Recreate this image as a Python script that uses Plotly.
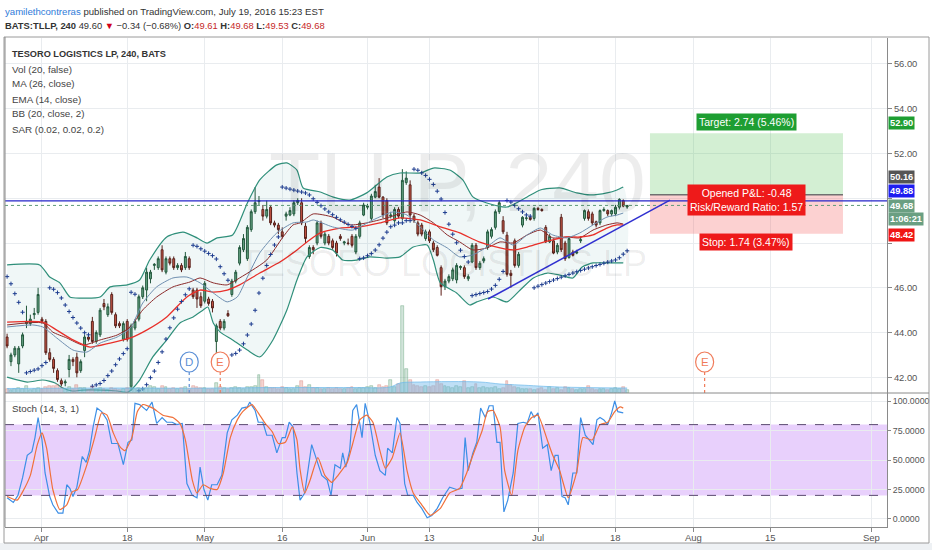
import numpy as np
import plotly.graph_objects as go

# ---------------- data (240-minute bars, TLLP, from Mar 24 2016 pm to Jul 19 2016) ----------------
# time unit: trading-day index, 0 = Apr 1 2016, two bars per session
OPEN = [43.8,42.7,43.0,42.6,43.4,44.4,44.4,44.8,44.9,44.6,
        44.5,43.1,42.8,42.3,41.85,41.75,42.35,42.8,42.9,42.3,
        43.2,43.8,44.5,43.6,43.9,45.3,44.8,45.7,44.8,44.4,
        43.7,44.5,41.6,44.2,44.6,45.6,45.9,46.4,47.0,46.9,
        47.7,46.7,47.3,47.3,46.9,47.0,46.9,47.3,45.9,45.9,
        45.6,45.4,45.5,45.4,43.6,44.5,44.2,44.85,45.7,46.3,
        47.1,47.7,47.3,48.6,49.4,49.85,49.5,49.2,49.6,48.9,
        48.8,48.5,49.2,49.25,49.3,49.8,49.8,48.75,47.4,47.8,
        48.0,48.9,48.0,48.3,48.1,48.0,48.3,48.0,48.0,48.3,
        47.6,48.3,49.25,49.6,49.1,50.05,50.5,50.05,49.9,49.2,
        49.0,49.5,49.1,50.7,50.6,49.2,48.9,48.8,48.2,48.5,
        48.0,47.8,46.9,46.05,46.3,46.4,46.35,46.9,46.9,46.4,
        47.15,47.9,46.9,47.2,47.8,48.3,48.7,49.4,49.0,48.35,
        46.65,48.1,47.0,48.8,49.1,49.15,49.1,49.55,49.5,48.7,
        48.05,48.1,47.6,49.15,48.0,47.35,47.6,47.55,48.1,49.1,
        49.4,49.3,48.95,48.9,49.45,49.45,49.3,49.3,49.6,49.9,
        49.61]
HIGH = [43.95,43.1,43.4,43.4,44.0,45.2,44.8,45.1,46.0,44.7,
        44.6,43.3,42.9,42.4,41.95,41.9,43.0,42.9,43.1,42.8,
        43.9,43.9,44.7,44.1,45.1,45.5,45.3,45.8,44.9,44.5,
        44.5,44.6,44.4,44.6,45.7,46.1,46.9,46.8,47.1,47.4,
        47.9,47.4,47.4,47.4,47.1,47.1,47.6,47.4,46.0,46.0,
        45.8,46.3,45.6,45.5,44.4,44.6,44.6,45.0,46.4,46.8,
        47.9,48.4,48.8,49.5,50.5,50.1,49.7,49.9,49.7,49.0,
        48.9,48.7,49.4,49.6,49.9,50.0,50.0,48.9,47.9,47.9,
        49.0,49.0,48.5,48.4,48.2,48.1,48.4,48.1,48.2,48.4,
        48.4,49.0,49.8,49.75,50.2,50.6,50.9,50.1,50.0,49.4,
        49.6,49.6,51.3,51.2,50.8,49.3,49.0,48.9,48.6,48.6,
        48.1,47.9,47.0,46.4,46.6,46.9,47.1,47.0,47.0,46.6,
        48.0,48.0,47.2,47.4,48.6,48.7,49.5,49.9,49.2,48.5,
        46.8,48.2,47.6,49.2,49.2,49.2,49.6,49.6,49.55,48.8,
        48.4,48.2,48.0,49.3,48.1,48.3,47.7,47.7,48.3,49.5,
        49.5,49.4,49.0,49.5,49.6,49.5,49.5,49.7,50.0,49.95,
        49.68]
LOW = [43.3,42.5,42.9,42.2,43.3,44.2,44.3,44.6,44.8,44.4,
       43.0,42.7,42.2,41.8,41.6,41.6,42.0,42.5,42.0,42.2,
       42.9,43.6,43.5,43.5,43.8,45.0,44.7,44.8,44.2,44.2,
       43.6,43.6,41.4,44.1,44.5,45.5,45.4,46.2,46.8,46.8,
       46.7,46.6,47.0,46.8,46.8,46.7,46.8,46.8,45.5,45.1,
       45.1,45.3,45.2,44.9,43.0,44.1,44.1,44.7,45.6,46.2,
       47.0,47.6,47.2,48.5,49.3,49.7,49.0,49.1,48.8,48.7,
       48.4,48.2,49.0,49.2,49.2,49.7,48.8,48.0,47.3,47.5,
       47.9,48.2,47.9,47.9,47.7,47.4,48.1,47.9,47.9,47.8,
       47.5,48.2,49.2,49.5,49.0,50.0,50.0,49.1,48.8,49.1,
       48.9,49.1,49.0,50.6,49.1,48.9,48.3,48.3,48.1,48.0,
       47.6,47.4,45.65,45.9,46.2,46.3,46.2,46.8,46.4,46.3,
       47.1,46.8,46.8,47.1,47.7,48.2,48.6,49.3,48.4,46.5,
       46.0,46.9,46.9,48.7,49.0,49.0,49.0,49.45,49.4,48.0,
       48.0,47.5,47.5,47.6,47.2,47.3,47.4,47.5,48.0,49.0,
       49.0,48.8,48.7,48.8,49.4,49.2,49.2,49.2,49.5,49.6,
       49.53]
CLOSE = [43.4,43.0,43.3,43.3,43.9,44.5,44.6,44.85,45.7,44.5,
         43.1,42.8,42.4,41.9,41.7,41.8,42.8,42.7,42.2,42.7,
         43.8,43.7,43.6,44.0,45.0,45.15,45.15,44.9,44.3,44.3,
         44.4,43.7,44.3,44.5,45.6,46.0,46.7,46.7,47.05,47.3,
         46.8,47.3,47.1,46.9,47.0,46.8,47.4,46.9,45.6,45.5,
         45.2,46.2,45.3,45.1,44.3,44.2,44.5,44.75,46.3,46.7,
         47.8,48.2,48.7,49.4,49.8,49.9,49.2,49.5,48.9,48.8,
         48.6,48.3,49.3,49.45,49.8,49.9,48.9,48.2,47.8,47.7,
         48.9,48.3,48.4,48.0,47.8,47.55,48.2,48.05,47.98,47.9,
         48.3,48.9,49.7,49.65,50.1,50.3,50.05,49.25,48.9,49.25,
         49.5,49.2,50.8,50.9,49.25,49.0,48.4,48.4,48.5,48.1,
         47.7,47.45,46.05,46.3,46.5,46.8,47.0,46.95,46.5,46.5,
         47.9,46.9,47.1,47.3,48.5,48.6,49.4,49.8,48.5,46.6,
         46.55,47.0,47.5,49.15,49.12,49.05,49.55,49.5,49.45,48.05,
         48.3,47.55,47.9,47.7,47.3,48.2,47.45,47.6,48.15,49.45,
         49.1,48.9,48.8,49.45,49.5,49.3,49.45,49.6,49.95,49.65,
         49.68]
VOLUME = [40,35,45,50,40,70,35,40,55,40,
          60,70,70,80,50,45,60,40,80,50,
          55,35,60,40,55,40,35,50,45,35,
          40,50,60,40,50,45,55,70,60,45,
          70,60,45,50,40,55,60,45,70,60,
          55,50,40,45,100,60,50,40,55,60,
          50,45,60,65,70,180,130,60,50,55,
          45,60,50,45,40,70,120,60,80,50,
          55,45,40,50,45,55,40,45,50,60,
          45,55,50,60,70,55,80,60,70,130,
          60,90,870,240,130,80,70,60,75,60,
          70,130,90,70,60,50,70,60,120,50,
          60,90,50,60,55,50,60,45,55,120,
          80,60,50,45,40,45,35,40,50,35,
          60,40,50,35,60,55,40,35,45,40,
          70,40,35,45,40,35,40,55,45,60,
          35]
FIRST_BAR_T = -4.5

# indicator lines: (time, value)
BB_UP_T = [-4.5,-0.3,1.0,2.3,3.6,4.9,7.5,8.8,11.0,12.6,13.9,16.1,18.2,20.0,21.3,22.6,24.6,26.5,28.1,30.3,
           31.6,32.9,33.7,35.9,37.5,39.7,41.9,44.5,46.2,48.8,50.5,52.6,54.3,55.6,57.4,60.0,62.6,64.3,66.8,69.0,
           70.7,72.9,74.2,75.0]
BB_UP_V = [47.02,47.02,46.48,46.22,45.59,45.54,45.59,46.04,46.13,46.35,47.24,48.27,48.49,48.23,48.00,48.23,48.36,49.79,50.82,51.49,
           51.58,51.26,50.46,50.28,50.06,49.92,50.24,50.95,51.13,51.13,51.35,51.26,50.82,50.06,49.79,49.61,50.06,50.37,50.46,50.24,
           50.15,50.24,50.37,50.50]
BB_LO_T = [-4.5,-1.9,0.1,1.7,2.7,3.9,5.3,7.5,9.7,11.1,12.6,14.3,16.1,17.8,19.5,20.8,21.4,22.1,23.0,24.6,
           26.5,28.1,29.8,31.6,32.9,34.2,35.9,37.5,38.8,40.6,42.3,44.5,46.2,47.9,49.7,50.5,51.4,53.5,55.2,56.1,
           58.2,60.0,61.7,63.4,65.2,66.8,68.5,69.7,71.1,72.9,75.0]
BB_LO_V = [42.01,41.79,41.88,41.75,41.52,41.39,41.43,41.43,41.39,41.34,41.88,42.91,43.67,44.43,44.70,45.01,45.14,44.43,44.02,43.67,
           43.22,42.91,43.67,45.01,46.35,47.38,47.80,47.69,47.24,47.24,47.38,47.33,47.38,47.82,47.91,47.24,46.22,45.77,45.23,45.37,
           45.59,45.37,45.90,46.44,46.66,46.57,46.44,46.93,47.11,47.11,47.11]
BB_MID_T = [-4.5,0.1,1.4,3.2,5.3,7.5,9.7,11.4,13.0,14.8,16.9,19.1,20.4,22.1,23.9,25.5,27.2,29.0,31.1,32.4,
            33.3,35.0,37.5,39.7,41.9,44.5,47.1,48.8,50.5,52.3,53.9,55.6,57.4,59.1,60.8,62.6,64.3,65.9,67.7,69.4,
            71.1,72.9,74.2,75.0]
BB_MID_V = [44.34,44.43,44.02,43.76,43.44,43.67,43.89,44.25,45.01,45.59,46.04,46.26,46.44,46.22,46.13,46.44,46.80,47.24,48.27,48.81,
            48.90,49.30,49.16,48.81,48.90,49.12,49.39,49.25,48.90,48.36,48.05,47.69,47.78,48.05,48.00,48.36,48.58,48.23,48.27,48.23,
            48.58,48.81,48.90,48.85]
MA26_T = [-4.5,0.1,1.9,4.0,6.2,8.8,11.4,13.5,16.1,18.7,20.4,22.1,23.9,25.5,28.1,30.7,32.4,34.2,35.9,38.5,
          41.0,43.6,46.2,48.8,51.4,53.9,56.4,59.1,60.8,62.6,64.3,65.9,67.7,69.4,71.1,72.9,74.2,75.0]
MA26_V = [44.47,44.47,44.11,43.67,43.35,43.53,43.76,44.11,44.70,45.59,45.90,45.81,45.90,46.13,46.66,47.15,47.56,48.05,48.45,48.67,
          48.72,48.90,49.12,49.03,48.72,48.45,48.05,47.78,47.69,47.82,48.00,48.14,48.27,48.27,48.36,48.67,48.81,48.81]
EMA14_T = [-4.5,-1.2,0.1,1.9,4.0,5.8,7.5,9.7,11.4,13.0,14.8,16.9,18.7,20.4,22.1,23.9,25.2,26.5,28.1,30.3,
           32.4,34.2,35.0,37.5,40.1,42.7,45.3,47.1,48.8,50.5,52.3,53.9,55.6,57.4,59.1,60.8,62.6,64.3,65.9,67.7,
           69.4,71.1,72.9,74.2,75.0]
EMA14_V = [44.25,44.34,44.25,43.76,43.22,43.13,43.53,43.80,44.20,45.32,46.04,46.44,46.48,46.22,45.77,45.37,45.59,46.48,47.56,48.45,
           48.90,48.94,49.03,48.72,48.58,49.03,49.39,49.25,48.72,48.14,47.78,47.38,47.47,47.82,48.23,47.91,48.36,48.67,48.36,48.23,
           48.45,48.81,49.16,49.25,49.34]
VOLMA_T = [-4.5,10,20,30,40,44.9,46.2,48.8,56.5,59.1,61.7,66.8,75.5]
VOLMA_V = [45,50,48,55,55,60,100,110,110,90,80,60,50]

STOCH_K_T = [-4.5,-3.7,-3.1,-2.5,-1.9,-1.3,-0.9,-0.5,0.0,0.4,1.0,1.4,2.1,2.7,3.2,3.6,4.0,4.5,5.2,5.7,
             6.1,6.6,7.1,7.7,8.4,9.0,9.8,10.5,11.1,11.6,12.0,12.6,13.5,14.2,14.8,15.5,16.1,16.8,17.4,18.1,
             18.7,19.4,20.0,20.4,20.9,21.4,21.9,22.6,23.2,23.9,24.5,25.2,25.8,26.5,26.8,27.5,27.9,28.5,29.0,29.7,
             30.3,31.0,31.4,31.9,32.4,32.9,33.3,33.9,34.8,35.5,36.1,36.8,37.3,37.8,38.5,38.8,39.2,39.7,40.1,40.6,
             41.3,41.7,42.3,43.0,43.6,44.3,44.6,45.2,45.8,46.2,46.8,47.2,47.9,48.4,49.0,49.7,50.3,51.0,51.7,52.6,
             53.5,54.2,54.6,55.0,55.6,56.1,56.6,57.2,57.7,58.2,58.7,59.1,59.6,60.1,60.8,61.4,62.1,62.6,63.1,63.5,
             64.0,64.6,65.2,65.7,66.2,66.6,67.1,67.5,67.9,68.5,69.0,69.5,70.1,70.6,71.1,71.6,72.0,72.5,73.0,73.5,
             73.9,74.3,75.0]
STOCH_K_V = [18,14,20,35,54,57,69,86,67,39,19,12,5,5,29,26,19,27,53,48,
             57,78,94,91,84,64,64,46,65,67,98,97,92,99,81,86,82,82,80,81,
             30,20,18,44,25,16,29,29,37,73,84,88,94,95,99,92,82,82,71,71,
             56,69,69,82,78,39,16,22,63,50,37,33,20,46,43,56,44,58,92,97,
             69,98,82,54,41,37,60,56,86,81,30,20,20,14,9,1,3,9,18,27,
             25,26,69,41,56,65,94,86,96,96,65,65,6,16,39,81,82,81,91,86,
             90,60,63,41,54,54,19,18,12,39,39,86,71,67,63,84,86,84,80,90,
             100,91,90]
STOCH_D_T = [-4.5,-3.2,-2.5,-1.5,-0.6,0.0,0.6,1.4,2.3,3.2,3.9,4.6,5.8,6.8,7.7,8.4,9.2,10.1,10.7,11.6,
             12.3,13.0,14.3,15.6,16.9,17.8,18.5,19.4,20.0,20.8,21.7,22.6,23.4,24.3,25.2,25.9,27.1,27.9,28.8,29.7,
             30.5,31.4,32.3,32.9,33.3,33.9,34.6,35.6,36.5,37.4,38.2,39.4,40.1,41.0,41.9,42.7,43.6,44.3,45.2,46.2,
             47.1,47.9,49.0,50.1,51.4,52.6,53.9,54.8,55.6,56.8,57.5,58.2,59.1,59.7,60.6,61.4,62.3,63.2,64.0,65.2,
             65.9,66.8,67.9,69.0,69.8,71.0,72.0,73.0,73.9,74.6,75.0]
STOCH_D_V = [19,16,23,37,63,73,60,25,8,12,23,25,46,69,90,88,73,61,58,69,
             91,97,94,88,86,81,67,33,22,29,26,25,39,69,84,91,97,90,81,74,
             64,65,78,67,42,22,33,52,37,31,37,48,64,84,88,82,58,43,52,73,
             41,22,12,3,9,22,26,39,54,75,91,92,78,41,20,58,78,86,88,67,
             54,41,18,40,69,67,80,82,91,95,94]

# drawings on the chart
H_LINE = 49.88
LAST_PRICE = 49.68
TREND_T = [57.55, 81.03]
TREND_P = [45.50, 49.92]
POS_T = [78.45, 103.35]
POS_ENTRY, POS_TARGET, POS_STOP = 50.16, 52.90, 48.42
EVENT_T = [19.0, 23.0, 85.5]
EVENT_TXT = ["D", "E", "E"]
EVENT_COL = ["#5b8fd6", "#f07b5a", "#f07b5a"]
SAR_START, SAR_AF_START = 46.5, 0.1

TICK_T = [0, 11, 21, 31, 42, 50, 64, 74, 84, 94, 107]
TICK_TXT = ["Apr", "18", "May", "16", "Jun", "13", "Jul", "18", "Aug", "15", "Sep"]
PRICE_TICKS = [42, 44, 46, 48, 50, 52, 54, 56]
PRICE_TICK_TXT = ["42.00", "44.00", "46.00", "", "", "52.00", "54.00", "56.00"]

# ---------------- derived ----------------
N = len(CLOSE)
BAR_T = FIRST_BAR_T + 0.5 * np.arange(N)
hi = np.array(HIGH); lo = np.array(LOW)

# Parabolic SAR (0.02, 0.02, 0.2)
sar = np.zeros(N)
up = False
s = SAR_START
ep = lo[0]
af = SAR_AF_START
for i in range(N):
    if i > 0:
        s = s + af * (ep - s)
        if up:
            s = min(s, lo[i - 1], lo[max(i - 2, 0)])
        else:
            s = max(s, hi[i - 1], hi[max(i - 2, 0)])
    if up and lo[i] < s:
        up = False; s = ep; ep = lo[i]; af = 0.02
    elif (not up) and hi[i] > s:
        up = True; s = ep; ep = hi[i]; af = 0.02
    else:
        if up and hi[i] > ep:
            ep = hi[i]; af = min(af + 0.02, 0.2)
        if (not up) and lo[i] < ep:
            ep = lo[i]; af = min(af + 0.02, 0.2)
    sar[i] = s

# ---------------- layout helpers (pixel -> paper) ----------------
W, H = 932, 550
PL, PR, PT, PB = 5, 887, 38, 527
def px(x): return (x - PL) / (PR - PL)
def py(y): return (PB - y) / (PB - PT)

SPLIT = py(393)
FONT = "Liberation Sans, Arial"
XR = [-4.77, 109.03]
YR = [41.30, 57.16]
Y2R = [-6.8, 106.8]

fig = go.Figure()

# Bollinger fill
fig.add_trace(go.Scatter(x=BB_UP_T + BB_LO_T[::-1], y=BB_UP_V + BB_LO_V[::-1], fill="toself",
                         fillcolor="rgba(40,140,140,0.07)", line=dict(width=0), mode="lines",
                         hoverinfo="skip", line_shape="spline"))
for t, v, c, w in [(BB_UP_T, BB_UP_V, "#2f8f7a", 1.2), (BB_LO_T, BB_LO_V, "#2f8f7a", 1.2),
                   (BB_MID_T, BB_MID_V, "#8b2a2a", 1.0), (MA26_T, MA26_V, "#e8302a", 1.3),
                   (EMA14_T, EMA14_V, "#6f8fb0", 1.0)]:
    fig.add_trace(go.Scatter(x=t, y=v, mode="lines", line=dict(color=c, width=w, shape="spline", smoothing=0.6),
                             hoverinfo="skip"))

# SAR
fig.add_trace(go.Scatter(x=BAR_T, y=sar, mode="markers",
                         marker=dict(symbol="cross-thin", size=3, color="#1d3c8f",
                                     line=dict(width=1, color="#1d3c8f"))))

# Candles
fig.add_trace(go.Candlestick(x=BAR_T, open=OPEN, high=HIGH, low=LOW, close=CLOSE,
                             increasing=dict(fillcolor="#6ba583", line=dict(color="#225437", width=1)),
                             decreasing=dict(fillcolor="#d75442", line=dict(color="#5b1a13", width=1)),
                             whiskerwidth=0))

# Volume (overlay axis)
vcol = ["rgba(107,165,131,0.30)" if c >= o else "rgba(215,84,66,0.25)" for o, c in zip(OPEN, CLOSE)]
vline = ["rgba(60,140,90,0.55)" if c >= o else "rgba(200,80,70,0.45)" for o, c in zip(OPEN, CLOSE)]
fig.add_trace(go.Bar(x=BAR_T, y=VOLUME, yaxis="y3", marker=dict(color=vcol, line=dict(color=vline, width=0.6)),
                     width=0.38))
fig.add_trace(go.Scatter(x=VOLMA_T, y=VOLMA_V, yaxis="y3", mode="lines", fill="tozeroy",
                         fillcolor="rgba(110,185,235,0.45)", line=dict(color="rgba(110,185,235,0.7)", width=1,
                                                                      shape="spline")))

# Stochastic
fig.add_trace(go.Scatter(x=STOCH_K_T, y=STOCH_K_V, yaxis="y2", mode="lines",
                         line=dict(color="#3d8fe6", width=1.2)))
fig.add_trace(go.Scatter(x=STOCH_D_T, y=STOCH_D_V, yaxis="y2", mode="lines",
                         line=dict(color="#f0703a", width=1.2, shape="spline", smoothing=0.5)))

shapes = []
# stoch band
shapes.append(dict(type="rect", xref="paper", yref="y2", x0=0, x1=1, y0=20, y1=80,
                   fillcolor="rgba(190,120,245,0.35)", line=dict(width=0), layer="below"))
for lv in (20, 80):
    shapes.append(dict(type="line", xref="paper", yref="y2", x0=0, x1=1, y0=lv, y1=lv,
                       line=dict(color="#5a4a70", width=1, dash="dash")))
# position tool
shapes.append(dict(type="rect", xref="x", yref="y", x0=POS_T[0], x1=POS_T[1], y0=POS_ENTRY, y1=POS_TARGET,
                   fillcolor="rgba(80,190,80,0.25)", line=dict(width=0)))
shapes.append(dict(type="rect", xref="x", yref="y", x0=POS_T[0], x1=POS_T[1], y0=POS_STOP, y1=POS_ENTRY,
                   fillcolor="rgba(245,90,90,0.28)", line=dict(width=0)))
shapes.append(dict(type="line", xref="x", yref="y", x0=POS_T[0], x1=POS_T[1], y0=POS_ENTRY, y1=POS_ENTRY,
                   line=dict(color="#707070", width=1.5)))
# horizontal line, price line, trend line
shapes.append(dict(type="line", xref="paper", yref="y", x0=0, x1=1, y0=H_LINE, y1=H_LINE,
                   line=dict(color="#2424c8", width=1.2)))
shapes.append(dict(type="line", xref="paper", yref="y", x0=0, x1=1, y0=LAST_PRICE, y1=LAST_PRICE,
                   line=dict(color="#5f9b7a", width=1, dash="dot")))
shapes.append(dict(type="line", xref="x", yref="y", x0=TREND_T[0], x1=TREND_T[1], y0=TREND_P[0], y1=TREND_P[1],
                   line=dict(color="#3030d0", width=1.5)))
# events
EV_Y = YR[0] + (393 - 362) / 22.38
EV_Y_LOW = YR[0] + (393 - 372) / 22.38
for t, c in zip(EVENT_T, EVENT_COL):
    shapes.append(dict(type="line", xref="x", yref="y", x0=t, x1=t, y0=YR[0], y1=EV_Y_LOW,
                       line=dict(color=c, width=1.2, dash="dot")))
    shapes.append(dict(type="circle", xref="x", yref="y", xsizemode="pixel", ysizemode="pixel",
                       xanchor=t, yanchor=EV_Y, x0=-9, x1=9, y0=-10, y1=10,
                       fillcolor="white", line=dict(color=c, width=1.2)))
# frame
shapes.append(dict(type="rect", xref="paper", yref="paper", x0=px(0), x1=px(932), y0=py(550), y1=py(543),
                   fillcolor="#eef1f4", line=dict(width=0)))
shapes.append(dict(type="rect", xref="paper", yref="paper", x0=px(4), x1=px(929), y0=py(543), y1=py(37),
                   fillcolor="rgba(0,0,0,0)", line=dict(color="#9a9a9a", width=1)))
shapes.append(dict(type="line", xref="paper", yref="paper", x0=px(5), x1=px(929), y0=py(393), y1=py(393),
                   line=dict(color="#8a8a8a", width=1)))
shapes.append(dict(type="line", xref="paper", yref="paper", x0=px(5), x1=px(5), y0=py(527), y1=py(37),
                   line=dict(color="#8a8a8a", width=1)))

ann = []
def txt(x, y, text, size=11, color="#333", xanchor="left", yanchor="middle", family=FONT, **kw):
    ann.append(dict(x=px(x), y=py(y), xref="paper", yref="paper", text=text, showarrow=False,
                    xanchor=xanchor, yanchor=yanchor, font=dict(size=size, color=color, family=family), **kw))

# header
txt(3, 11, '<span style="color:#2f7bd9">yamilethcontreras</span> published on TradingView.com, July 19, 2016 15:23 EST',
    size=9.6, color="#333")
txt(3, 25.5, '<b>BATS:TLLP, 240</b> 49.60 <span style="color:#d0021b">▼</span> −0.34 (−0.68%) '
    '<b>O:</b><span style="color:#c62828">49.61</span> <b>H:</b><span style="color:#c62828">49.68</span> '
    '<b>L:</b><span style="color:#c62828">49.53</span> <b>C:</b><span style="color:#c62828">49.68</span>',
    size=9.4, color="#333")
# watermark
txt(457, 182, "TLLP, 240", size=84, color="rgba(0,0,0,0.07)", xanchor="center")
txt(443, 263, "TESORO LOGISTICS LP", size=36, color="rgba(0,0,0,0.07)", xanchor="center")
# legends
txt(10, 54, "<b>TESORO LOGISTICS LP, 240, BATS</b>", size=9.2, color="#333")
for i, s_ in enumerate(["Vol (20, false)", "MA (26, close)", "EMA (14, close)", "BB (20, close, 2)",
                        "SAR (0.02, 0.02, 0.2)"]):
    txt(10, 69 + 15 * i, s_, size=9.8, color="#444")
txt(10, 408, "Stoch (14, 3, 1)", size=9.8, color="#444")
# date labels
for t, s_ in zip(TICK_T, TICK_TXT):
    ann.append(dict(x=t, y=py(537), xref="x", yref="paper", text=s_, showarrow=False, yanchor="middle",
                    font=dict(size=9.5, color="#555", family=FONT)))
# axis labels for drawings / prices
for yy, label, bg in [(123, "52.90", "#1e9e32"), (177, "50.16", "#555555"), (191, "49.88", "#1d1df0"),
                      (205.5, "49.68", "#6a9f82"), (219.5, "1:06:21", "#6a9f82"), (234.5, "48.42", "#f01414")]:
    txt(887.5, yy, "<b>" + label + "</b>", size=9.3, color="white", bgcolor=bg, borderpad=1)
# position labels
mid_t = (POS_T[0] + POS_T[1]) / 2
for yv, label, bg in [(53.41, "Target: 2.74 (5.46%)", "#1e9e32"),
                      (49.92, "Opened P&L: -0.48<br>Risk/Reward Ratio: 1.57", "#ee1a1a"),
                      (48.05, "Stop: 1.74 (3.47%)", "#ee1a1a")]:
    ann.append(dict(x=mid_t, y=yv, xref="x", yref="y", text=label, showarrow=False, bgcolor=bg,
                    borderpad=2, font=dict(size=10.5, color="white", family=FONT)))
for t, s_, c in zip(EVENT_T, EVENT_TXT, EVENT_COL):
    ann.append(dict(x=t, y=EV_Y, xref="x", yref="y", text=s_, showarrow=False,
                    font=dict(size=11.5, color=c, family=FONT)))

AX_FONT = dict(size=9.4, color="#555", family=FONT)
fig.update_layout(
    width=W, height=H, margin=dict(l=PL, r=W - PR, t=PT, b=H - PB, autoexpand=False),
    paper_bgcolor="white", plot_bgcolor="white", showlegend=False,
    xaxis=dict(range=XR, anchor="y2", tickvals=TICK_T, showticklabels=False, showgrid=True, gridcolor="#e9ecef",
               zeroline=False, ticks="outside", ticklen=4, tickcolor="#888", showline=True, linecolor="#8a8a8a",
               rangeslider=dict(visible=False)),
    yaxis=dict(domain=[SPLIT, 1], range=YR, side="right", anchor="x", tickvals=PRICE_TICKS,
               ticktext=PRICE_TICK_TXT, showgrid=True, gridcolor="#e9ecef", zeroline=False, ticks="outside",
               ticklen=4, tickcolor="#888", showline=True, linecolor="#8a8a8a", tickfont=AX_FONT),
    yaxis2=dict(domain=[0, SPLIT], range=Y2R, side="right", anchor="x", tickvals=[0, 25, 50, 75, 100],
                tickformat=".4f", showgrid=True, gridcolor="#e9ecef", zeroline=False, ticks="outside", ticklen=3,
                tickcolor="#888", showline=True, linecolor="#8a8a8a",
                tickfont=dict(size=8.8, color="#555", family=FONT)),
    yaxis3=dict(overlaying="y", range=[0, 3550], visible=False),
    shapes=shapes, annotations=ann, bargap=0,
)
fig.write_html("out.html", config={"displayModeBar": False},
               post_script="document.body.style.margin='0px';document.body.style.overflow='hidden';")
